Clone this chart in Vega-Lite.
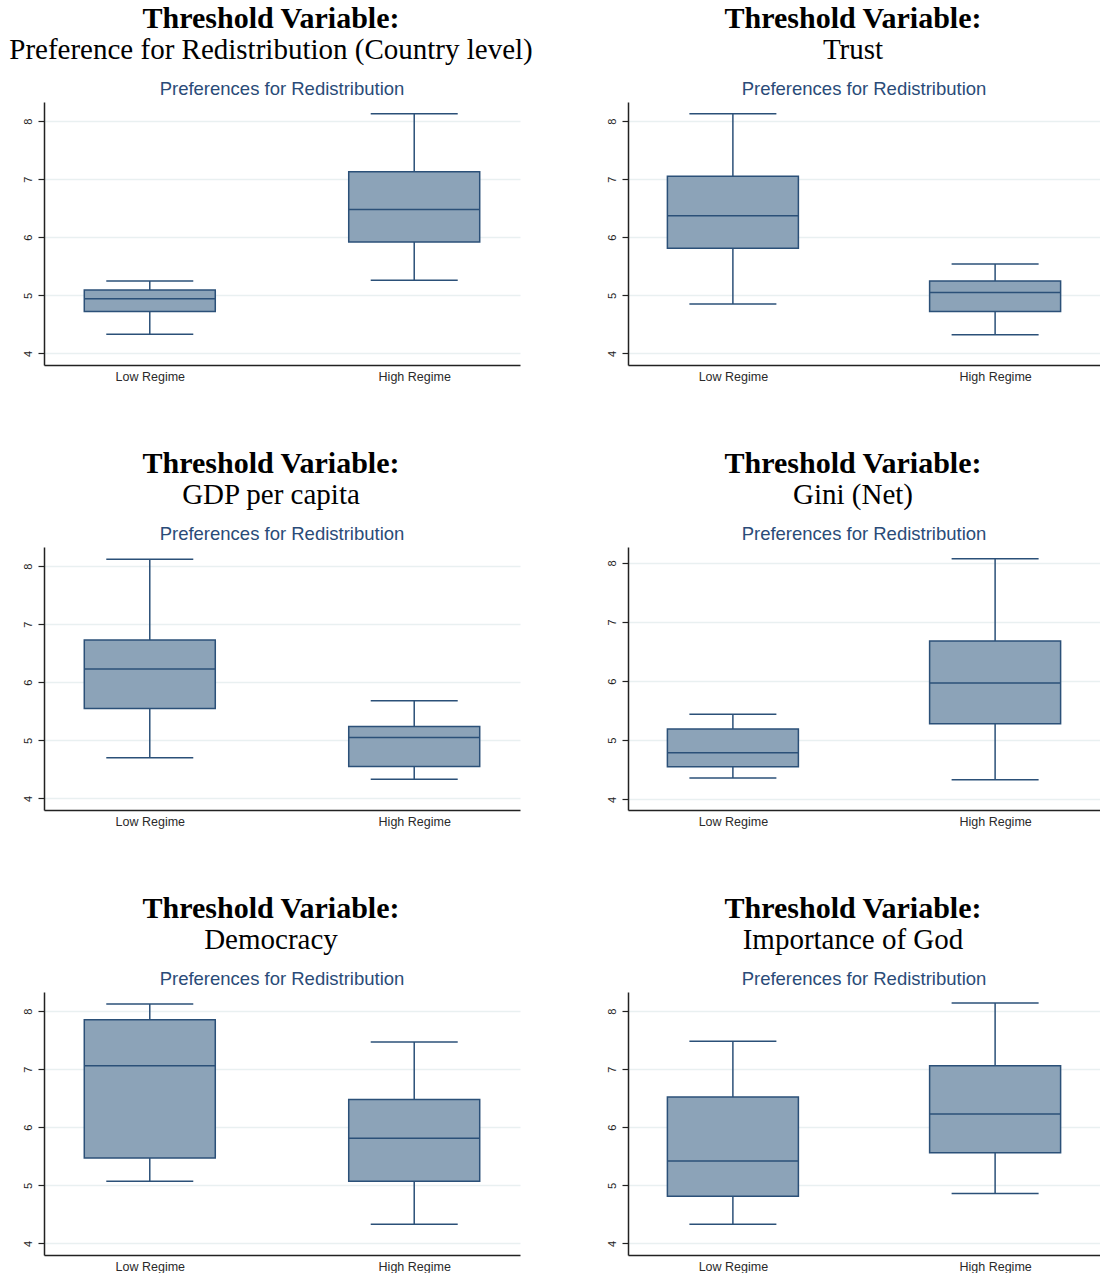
{
  "$schema": "https://vega.github.io/schema/vega-lite/v6.json",
  "padding": {"left": 9, "top": 3, "right": 0, "bottom": 0},
  "background": "white",
  "data": {"values": [
    {"panel": "p1", "regime": "Low Regime", "lower": 4.33, "q1": 4.72, "median": 4.94, "q3": 5.09, "upper": 5.245},
    {"panel": "p1", "regime": "High Regime", "lower": 5.26, "q1": 5.92, "median": 6.48, "q3": 7.13, "upper": 8.126},
    {"panel": "p2", "regime": "Low Regime", "lower": 4.85, "q1": 5.81, "median": 6.37, "q3": 7.05, "upper": 8.126},
    {"panel": "p2", "regime": "High Regime", "lower": 4.32, "q1": 4.72, "median": 5.05, "q3": 5.245, "upper": 5.54},
    {"panel": "p3", "regime": "Low Regime", "lower": 4.70, "q1": 5.55, "median": 6.23, "q3": 6.73, "upper": 8.12},
    {"panel": "p3", "regime": "High Regime", "lower": 4.33, "q1": 4.55, "median": 5.05, "q3": 5.24, "upper": 5.68},
    {"panel": "p4", "regime": "Low Regime", "lower": 4.36, "q1": 4.55, "median": 4.79, "q3": 5.19, "upper": 5.44},
    {"panel": "p4", "regime": "High Regime", "lower": 4.33, "q1": 5.28, "median": 5.97, "q3": 6.68, "upper": 8.07},
    {"panel": "p5", "regime": "Low Regime", "lower": 5.07, "q1": 5.47, "median": 7.06, "q3": 7.85, "upper": 8.125},
    {"panel": "p5", "regime": "High Regime", "lower": 4.33, "q1": 5.07, "median": 5.81, "q3": 6.48, "upper": 7.47},
    {"panel": "p6", "regime": "Low Regime", "lower": 4.33, "q1": 4.81, "median": 5.42, "q3": 6.52, "upper": 7.48},
    {"panel": "p6", "regime": "High Regime", "lower": 4.86, "q1": 5.56, "median": 6.23, "q3": 7.06, "upper": 8.14}
  ]},
  "columns": 2,
  "spacing": {"column": 72, "row": 65},
  "concat": [
    {"title": {"text": "Threshold Variable:", "subtitle": "Preference for Redistribution (Country level)"},
     "vconcat": [{"width": 476, "height": 263, "title": {"text": "Preferences for Redistribution", "font": "Liberation Sans", "fontSize": 18.5, "fontWeight": "normal", "color": "#2a4b78", "offset": 4},
       "transform": [{"filter": "datum.panel == 'p1'"}],
       "encoding": {"x": {"field": "regime", "type": "nominal", "sort": ["Low Regime", "High Regime"], "scale": {"type": "point", "padding": 0.4}, "axis": {"title": null}}},
       "layer": [
         {"mark": {"type": "rule", "color": "#2b5078", "strokeWidth": 1.5}, "encoding": {"y": {"field": "lower", "type": "quantitative", "scale": {"domain": [3.8, 8.33], "nice": false, "zero": false}, "axis": {"title": null, "values": [4, 5, 6, 7, 8], "format": "d"}}, "y2": {"field": "upper"}}},
         {"mark": {"type": "tick", "size": 87, "thickness": 1.5, "color": "#2b5078", "opacity": 1}, "encoding": {"y": {"field": "lower", "type": "quantitative"}}},
         {"mark": {"type": "tick", "size": 87, "thickness": 1.5, "color": "#2b5078", "opacity": 1}, "encoding": {"y": {"field": "upper", "type": "quantitative"}}},
         {"mark": {"type": "bar", "size": 131, "fill": "#8ca3b8", "stroke": "#2b5078", "strokeWidth": 1.5, "opacity": 1}, "encoding": {"y": {"field": "q1", "type": "quantitative"}, "y2": {"field": "q3"}}},
         {"mark": {"type": "tick", "size": 131, "thickness": 1.5, "color": "#2b5078", "opacity": 1}, "encoding": {"y": {"field": "median", "type": "quantitative"}}}
       ]}]},
    {"title": {"text": "Threshold Variable:", "subtitle": "Trust"},
     "vconcat": [{"width": 472, "height": 263, "title": {"text": "Preferences for Redistribution", "font": "Liberation Sans", "fontSize": 18.5, "fontWeight": "normal", "color": "#2a4b78", "offset": 4},
       "transform": [{"filter": "datum.panel == 'p2'"}],
       "encoding": {"x": {"field": "regime", "type": "nominal", "sort": ["Low Regime", "High Regime"], "scale": {"type": "point", "padding": 0.4}, "axis": {"title": null}}},
       "layer": [
         {"mark": {"type": "rule", "color": "#2b5078", "strokeWidth": 1.5}, "encoding": {"y": {"field": "lower", "type": "quantitative", "scale": {"domain": [3.8, 8.33], "nice": false, "zero": false}, "axis": {"title": null, "values": [4, 5, 6, 7, 8], "format": "d"}}, "y2": {"field": "upper"}}},
         {"mark": {"type": "tick", "size": 87, "thickness": 1.5, "color": "#2b5078", "opacity": 1}, "encoding": {"y": {"field": "lower", "type": "quantitative"}}},
         {"mark": {"type": "tick", "size": 87, "thickness": 1.5, "color": "#2b5078", "opacity": 1}, "encoding": {"y": {"field": "upper", "type": "quantitative"}}},
         {"mark": {"type": "bar", "size": 131, "fill": "#8ca3b8", "stroke": "#2b5078", "strokeWidth": 1.5, "opacity": 1}, "encoding": {"y": {"field": "q1", "type": "quantitative"}, "y2": {"field": "q3"}}},
         {"mark": {"type": "tick", "size": 131, "thickness": 1.5, "color": "#2b5078", "opacity": 1}, "encoding": {"y": {"field": "median", "type": "quantitative"}}}
       ]}]},
    {"title": {"text": "Threshold Variable:", "subtitle": "GDP per capita"},
     "vconcat": [{"width": 476, "height": 263, "title": {"text": "Preferences for Redistribution", "font": "Liberation Sans", "fontSize": 18.5, "fontWeight": "normal", "color": "#2a4b78", "offset": 4},
       "transform": [{"filter": "datum.panel == 'p3'"}],
       "encoding": {"x": {"field": "regime", "type": "nominal", "sort": ["Low Regime", "High Regime"], "scale": {"type": "point", "padding": 0.4}, "axis": {"title": null}}},
       "layer": [
         {"mark": {"type": "rule", "color": "#2b5078", "strokeWidth": 1.5}, "encoding": {"y": {"field": "lower", "type": "quantitative", "scale": {"domain": [3.8, 8.33], "nice": false, "zero": false}, "axis": {"title": null, "values": [4, 5, 6, 7, 8], "format": "d"}}, "y2": {"field": "upper"}}},
         {"mark": {"type": "tick", "size": 87, "thickness": 1.5, "color": "#2b5078", "opacity": 1}, "encoding": {"y": {"field": "lower", "type": "quantitative"}}},
         {"mark": {"type": "tick", "size": 87, "thickness": 1.5, "color": "#2b5078", "opacity": 1}, "encoding": {"y": {"field": "upper", "type": "quantitative"}}},
         {"mark": {"type": "bar", "size": 131, "fill": "#8ca3b8", "stroke": "#2b5078", "strokeWidth": 1.5, "opacity": 1}, "encoding": {"y": {"field": "q1", "type": "quantitative"}, "y2": {"field": "q3"}}},
         {"mark": {"type": "tick", "size": 131, "thickness": 1.5, "color": "#2b5078", "opacity": 1}, "encoding": {"y": {"field": "median", "type": "quantitative"}}}
       ]}]},
    {"title": {"text": "Threshold Variable:", "subtitle": "Gini (Net)"},
     "vconcat": [{"width": 472, "height": 263, "title": {"text": "Preferences for Redistribution", "font": "Liberation Sans", "fontSize": 18.5, "fontWeight": "normal", "color": "#2a4b78", "offset": 4},
       "transform": [{"filter": "datum.panel == 'p4'"}],
       "encoding": {"x": {"field": "regime", "type": "nominal", "sort": ["Low Regime", "High Regime"], "scale": {"type": "point", "padding": 0.4}, "axis": {"title": null}}},
       "layer": [
         {"mark": {"type": "rule", "color": "#2b5078", "strokeWidth": 1.5}, "encoding": {"y": {"field": "lower", "type": "quantitative", "scale": {"domain": [3.82, 8.27], "nice": false, "zero": false}, "axis": {"title": null, "values": [4, 5, 6, 7, 8], "format": "d"}}, "y2": {"field": "upper"}}},
         {"mark": {"type": "tick", "size": 87, "thickness": 1.5, "color": "#2b5078", "opacity": 1}, "encoding": {"y": {"field": "lower", "type": "quantitative"}}},
         {"mark": {"type": "tick", "size": 87, "thickness": 1.5, "color": "#2b5078", "opacity": 1}, "encoding": {"y": {"field": "upper", "type": "quantitative"}}},
         {"mark": {"type": "bar", "size": 131, "fill": "#8ca3b8", "stroke": "#2b5078", "strokeWidth": 1.5, "opacity": 1}, "encoding": {"y": {"field": "q1", "type": "quantitative"}, "y2": {"field": "q3"}}},
         {"mark": {"type": "tick", "size": 131, "thickness": 1.5, "color": "#2b5078", "opacity": 1}, "encoding": {"y": {"field": "median", "type": "quantitative"}}}
       ]}]},
    {"title": {"text": "Threshold Variable:", "subtitle": "Democracy"},
     "vconcat": [{"width": 476, "height": 263, "title": {"text": "Preferences for Redistribution", "font": "Liberation Sans", "fontSize": 18.5, "fontWeight": "normal", "color": "#2a4b78", "offset": 4},
       "transform": [{"filter": "datum.panel == 'p5'"}],
       "encoding": {"x": {"field": "regime", "type": "nominal", "sort": ["Low Regime", "High Regime"], "scale": {"type": "point", "padding": 0.4}, "axis": {"title": null}}},
       "layer": [
         {"mark": {"type": "rule", "color": "#2b5078", "strokeWidth": 1.5}, "encoding": {"y": {"field": "lower", "type": "quantitative", "scale": {"domain": [3.8, 8.33], "nice": false, "zero": false}, "axis": {"title": null, "values": [4, 5, 6, 7, 8], "format": "d"}}, "y2": {"field": "upper"}}},
         {"mark": {"type": "tick", "size": 87, "thickness": 1.5, "color": "#2b5078", "opacity": 1}, "encoding": {"y": {"field": "lower", "type": "quantitative"}}},
         {"mark": {"type": "tick", "size": 87, "thickness": 1.5, "color": "#2b5078", "opacity": 1}, "encoding": {"y": {"field": "upper", "type": "quantitative"}}},
         {"mark": {"type": "bar", "size": 131, "fill": "#8ca3b8", "stroke": "#2b5078", "strokeWidth": 1.5, "opacity": 1}, "encoding": {"y": {"field": "q1", "type": "quantitative"}, "y2": {"field": "q3"}}},
         {"mark": {"type": "tick", "size": 131, "thickness": 1.5, "color": "#2b5078", "opacity": 1}, "encoding": {"y": {"field": "median", "type": "quantitative"}}}
       ]}]},
    {"title": {"text": "Threshold Variable:", "subtitle": "Importance of God"},
     "vconcat": [{"width": 472, "height": 263, "title": {"text": "Preferences for Redistribution", "font": "Liberation Sans", "fontSize": 18.5, "fontWeight": "normal", "color": "#2a4b78", "offset": 4},
       "transform": [{"filter": "datum.panel == 'p6'"}],
       "encoding": {"x": {"field": "regime", "type": "nominal", "sort": ["Low Regime", "High Regime"], "scale": {"type": "point", "padding": 0.4}, "axis": {"title": null}}},
       "layer": [
         {"mark": {"type": "rule", "color": "#2b5078", "strokeWidth": 1.5}, "encoding": {"y": {"field": "lower", "type": "quantitative", "scale": {"domain": [3.8, 8.33], "nice": false, "zero": false}, "axis": {"title": null, "values": [4, 5, 6, 7, 8], "format": "d"}}, "y2": {"field": "upper"}}},
         {"mark": {"type": "tick", "size": 87, "thickness": 1.5, "color": "#2b5078", "opacity": 1}, "encoding": {"y": {"field": "lower", "type": "quantitative"}}},
         {"mark": {"type": "tick", "size": 87, "thickness": 1.5, "color": "#2b5078", "opacity": 1}, "encoding": {"y": {"field": "upper", "type": "quantitative"}}},
         {"mark": {"type": "bar", "size": 131, "fill": "#8ca3b8", "stroke": "#2b5078", "strokeWidth": 1.5, "opacity": 1}, "encoding": {"y": {"field": "q1", "type": "quantitative"}, "y2": {"field": "q3"}}},
         {"mark": {"type": "tick", "size": 131, "thickness": 1.5, "color": "#2b5078", "opacity": 1}, "encoding": {"y": {"field": "median", "type": "quantitative"}}}
       ]}]}
  ],
  "config": {
    "view": {"stroke": null},
    "title": {"font": "Liberation Serif", "fontSize": 30, "fontWeight": "bold", "color": "#000000", "anchor": "middle", "subtitleFont": "Liberation Serif", "subtitleFontSize": 29, "subtitleColor": "#000000", "subtitleFontWeight": "normal", "subtitlePadding": 2, "offset": 15},
    "axisX": {"labelAngle": 0, "ticks": false, "grid": false, "domainColor": "#222222", "domainWidth": 1.5, "labelFont": "Liberation Sans", "labelFontSize": 12.5, "labelColor": "#2a2a2a", "labelPadding": 5},
    "axisY": {"labelAngle": -90, "tickSize": 6, "tickColor": "#222222", "tickWidth": 1.2, "domainColor": "#222222", "domainWidth": 1.5, "labelFont": "Liberation Sans", "labelFontSize": 11, "labelColor": "#222222", "labelPadding": 5, "grid": true, "gridColor": "#e9f0f1", "gridWidth": 1.5}
  }
}
